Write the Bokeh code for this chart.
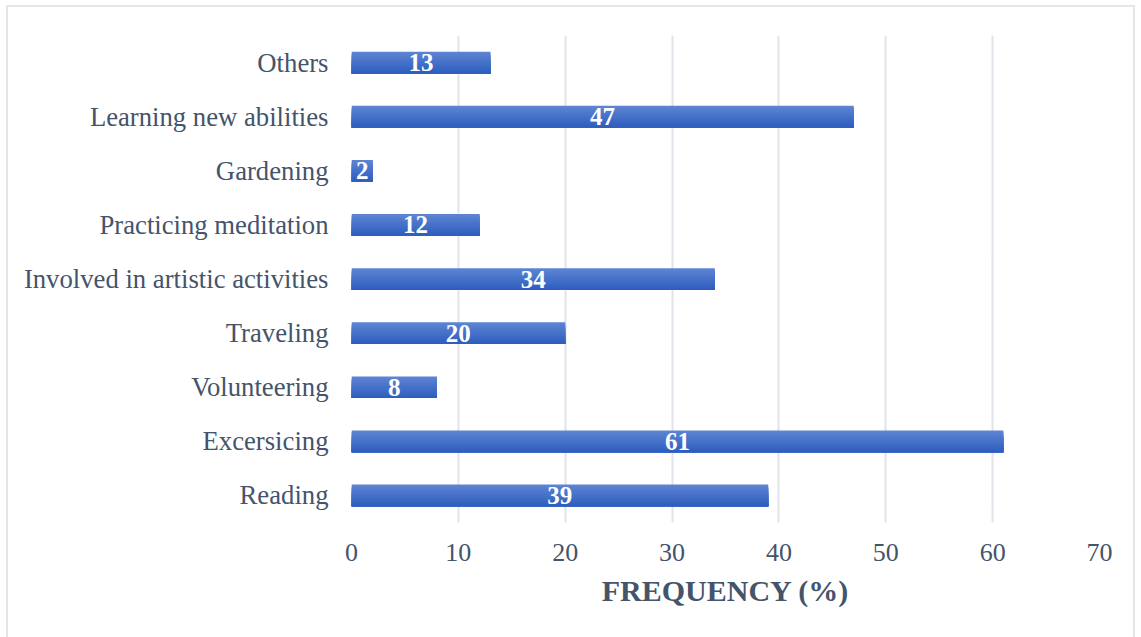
from bokeh.plotting import figure
from bokeh.models import ColumnDataSource, FactorRange, Range1d, FixedTicker
from bokeh.transform import dodge
from bokeh.embed import file_html
from bokeh.resources import INLINE

# Survey data: activities and their frequency (%)
activities = ["Reading", "Excersicing", "Volunteering", "Traveling",
              "Involved in artistic activities", "Practicing meditation",
              "Gardening", "Learning new abilities", "Others"]
frequency = [39, 61, 8, 20, 34, 12, 2, 47, 13]
x_ticks = [0, 10, 20, 30, 40, 50, 60, 70]

FONT = "Liberation Serif"
TEXT_COLOR = "#44546a"

src = ColumnDataSource(dict(
    act=activities,
    freq=frequency,
    mid=[v / 2 for v in frequency],
    lab=[str(v) for v in frequency],
))

p = figure(width=1129, height=632,
           y_range=FactorRange(*activities, range_padding=0),
           x_range=Range1d(0, 70),
           output_backend="svg", toolbar_location=None,
           min_border_left=343, min_border_right=38,
           min_border_top=28, min_border_bottom=117)
p.margin = (5, 0, 0, 6)
p.styles = {"border-top": "2px solid #e3e6eb", "border-left": "2px solid #e3e6eb",
            "border-right": "2px solid #e3e6eb"}
p.outline_line_color = None
p.background_fill_color = "white"
p.border_fill_color = "white"

# Bars drawn as overlapping layers, each one darker and covering less of the
# lower part, which gives a top-to-bottom gradient without seams
bar_h = 0.4
n = 14
top_rgb = (0x5d, 0x84, 0xd3)
bot_rgb = (0x2e, 0x5e, 0xbe)
for k in range(n):
    t = k / (n - 1)
    col = "#%02x%02x%02x" % tuple(int(round(a + (b - a) * t)) for a, b in zip(top_rgb, bot_rgb))
    h = bar_h * (n - k) / n
    off = -bar_h / 2 + h / 2
    p.hbar(y=dodge("act", off, range=p.y_range), right="freq", left=0,
           height=h, source=src, fill_color=col, line_color=None)

p.text(x="mid", y="act", text="lab", source=src,
       text_font=FONT, text_font_style="bold", text_font_size="25px",
       text_color="white", text_align="center", text_baseline="middle")

p.xgrid.grid_line_color = "#e0e4ea"
p.xgrid.grid_line_width = 2
p.ygrid.grid_line_color = None
p.xaxis.ticker = FixedTicker(ticks=x_ticks)

for ax in (p.xaxis[0], p.yaxis[0]):
    ax.axis_line_color = None
    ax.major_tick_line_color = None
    ax.minor_tick_line_color = None
    ax.major_label_text_font = FONT
    ax.major_label_text_color = TEXT_COLOR

p.yaxis.major_label_text_font_size = "26.7px"
p.xaxis.major_label_text_font_size = "26px"
p.yaxis.major_label_standoff = 17
p.xaxis.major_label_standoff = 15
p.xaxis.axis_label = "FREQUENCY (%)"
p.xaxis.axis_label_text_font = FONT
p.xaxis.axis_label_text_font_style = "bold"
p.xaxis.axis_label_text_font_size = "30px"
p.xaxis.axis_label_text_color = TEXT_COLOR
p.xaxis.axis_label_standoff = 10

open("out.html", "w").write(file_html(p, INLINE))
